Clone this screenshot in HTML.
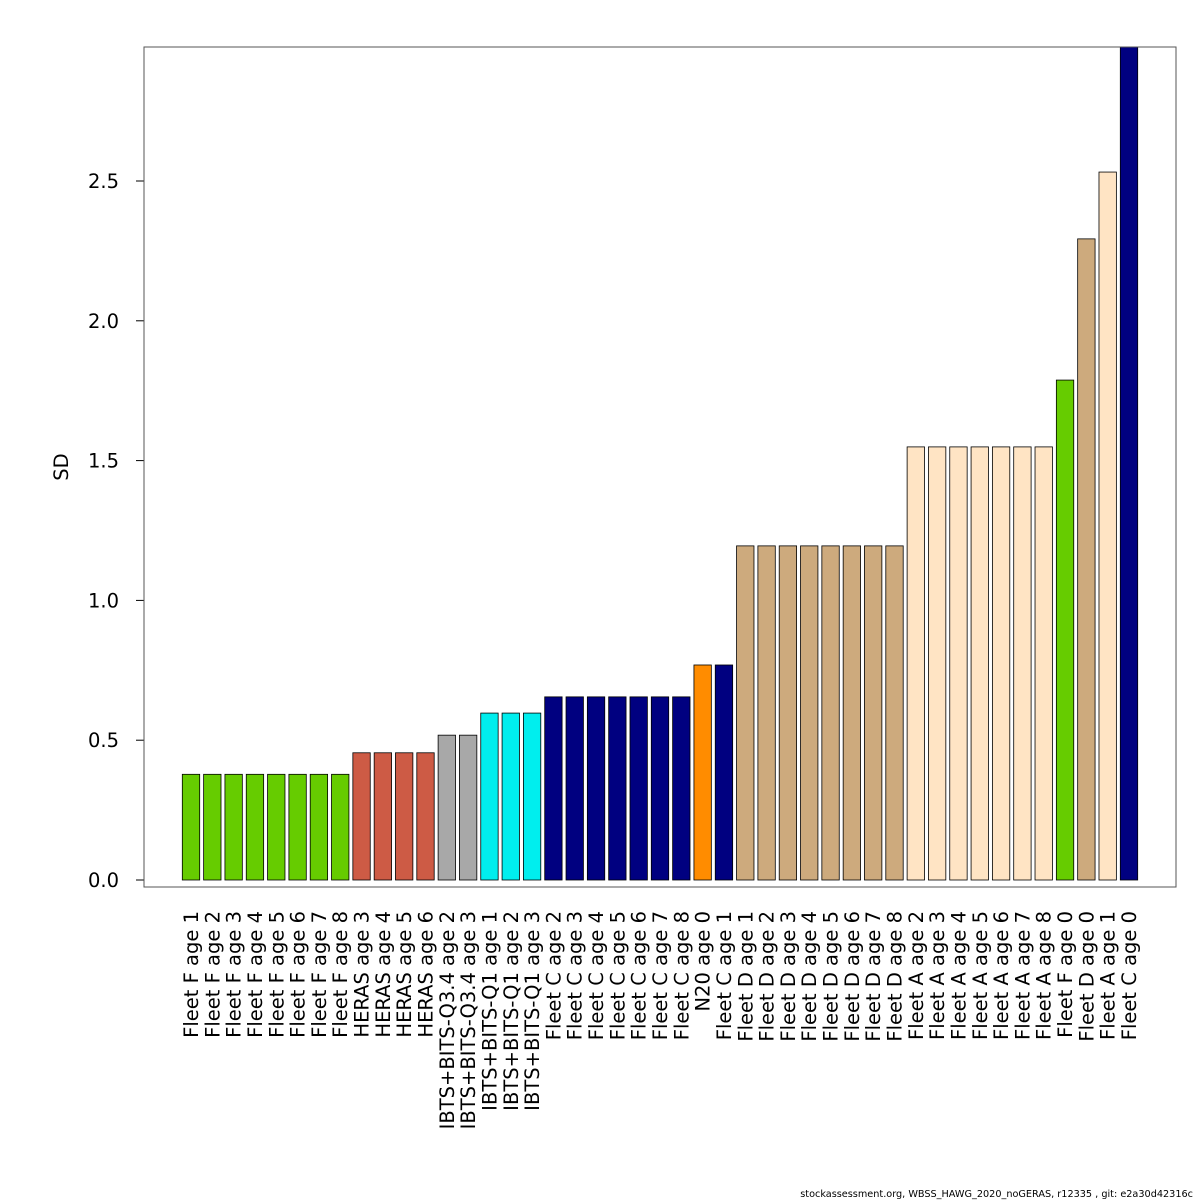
<!DOCTYPE html>
<html><head><meta charset="utf-8"><style>body{margin:0;background:#fff}svg{display:block}text{font-family:"DejaVu Sans","Liberation Sans",sans-serif}</style></head>
<body>
<svg id="chart" width="1200" height="1200" xmlns="http://www.w3.org/2000/svg">
<rect x="0" y="0" width="1200" height="1200" fill="#fff"/>
<g id="bars"></g>
<g id="yaxis"></g>
<g id="xlabels"></g>
<rect x="144" y="47" width="1032" height="840" fill="none" stroke="#555" stroke-width="1"/>
<text transform="translate(68,467) rotate(-90)" text-anchor="middle" font-size="19.5">SD</text>
<text x="1193" y="1197" text-anchor="end" font-size="9.7">stockassessment.org, WBSS_HAWG_2020_noGERAS, r12335 , git: e2a30d42316c</text>
</svg>
<script>
const categories = ["Fleet F age 1","Fleet F age 2","Fleet F age 3","Fleet F age 4","Fleet F age 5","Fleet F age 6","Fleet F age 7","Fleet F age 8","HERAS age 3","HERAS age 4","HERAS age 5","HERAS age 6","IBTS+BITS-Q3.4 age 2","IBTS+BITS-Q3.4 age 3","IBTS+BITS-Q1 age 1","IBTS+BITS-Q1 age 2","IBTS+BITS-Q1 age 3","Fleet C age 2","Fleet C age 3","Fleet C age 4","Fleet C age 5","Fleet C age 6","Fleet C age 7","Fleet C age 8","N20 age 0","Fleet C age 1","Fleet D age 1","Fleet D age 2","Fleet D age 3","Fleet D age 4","Fleet D age 5","Fleet D age 6","Fleet D age 7","Fleet D age 8","Fleet A age 2","Fleet A age 3","Fleet A age 4","Fleet A age 5","Fleet A age 6","Fleet A age 7","Fleet A age 8","Fleet F age 0","Fleet D age 0","Fleet A age 1","Fleet C age 0"];
const sdValues = [0.378,0.378,0.378,0.378,0.378,0.378,0.378,0.378,0.455,0.455,0.455,0.455,0.518,0.518,0.597,0.597,0.597,0.655,0.655,0.655,0.655,0.655,0.655,0.655,0.769,0.769,1.195,1.195,1.195,1.195,1.195,1.195,1.195,1.195,1.549,1.549,1.549,1.549,1.549,1.549,1.549,1.788,2.293,2.532,2.98];
const fleetGroups = ["F","F","F","F","F","F","F","F","HERAS","HERAS","HERAS","HERAS","IQ34","IQ34","IQ1","IQ1","IQ1","C","C","C","C","C","C","C","N20","C","D","D","D","D","D","D","D","D","A","A","A","A","A","A","A","F","D","A","C"];
const groupColors = {F:"#66CC00",HERAS:"#CD5B45",IQ34:"#A8A8A8",IQ1:"#00EEEE",C:"#000080",N20:"#FF8C00",D:"#CDAA7D",A:"#FFE4C4"};
const yTicks = [0,0.5,1.0,1.5,2.0,2.5];
const yTickLabels = ["0.0","0.5","1.0","1.5","2.0","2.5"];

const NS="http://www.w3.org/2000/svg";
const y0=880, yPerUnit=279.6, plotTop=47;
function yScale(v){return y0 - v*yPerUnit;}
const x0=191, pitch=(1129-191)/44, bw=17.4;
function xScale(i){return x0 + i*pitch;}

const gb=document.getElementById('bars');
categories.forEach((c,i)=>{
  const r=document.createElementNS(NS,'rect');
  
  
  const top=Math.max(yScale(sdValues[i]),plotTop);
  r.setAttribute('x',xScale(i)-bw/2);
  r.setAttribute('y',top);
  r.setAttribute('width',bw);
  r.setAttribute('height',y0-top);
  r.setAttribute('fill',groupColors[fleetGroups[i]]);
  r.setAttribute('stroke','#000');
  r.setAttribute('stroke-width','0.8');
  gb.appendChild(r);
  const t=document.createElementNS(NS,'text');
  
  
  t.setAttribute('transform','translate('+(xScale(i)+7)+',911) rotate(-90)');
  t.setAttribute('text-anchor','end');
  t.setAttribute('font-size','19.5');
  t.textContent=c;
  document.getElementById('xlabels').appendChild(t);
});
const gy=document.getElementById('yaxis');
const ax=document.createElementNS(NS,'line');


ax.setAttribute('x1',144);ax.setAttribute('x2',144);
ax.setAttribute('y1',yScale(0));ax.setAttribute('y2',yScale(2.5));
ax.setAttribute('stroke','#000');
gy.appendChild(ax);
yTicks.forEach((v,i)=>{
  const l=document.createElementNS(NS,'line');
  
  
  l.setAttribute('x1',136);l.setAttribute('x2',144);
  l.setAttribute('y1',yScale(v));l.setAttribute('y2',yScale(v));
  l.setAttribute('stroke','#000');
  gy.appendChild(l);
  const t=document.createElementNS(NS,'text');
  
  
  t.setAttribute('x',119);t.setAttribute('y',yScale(v)+7);
  t.setAttribute('text-anchor','end');
  t.setAttribute('font-size','19.5');
  t.textContent=yTickLabels[i];
  gy.appendChild(t);
});
</script>
</body></html>
